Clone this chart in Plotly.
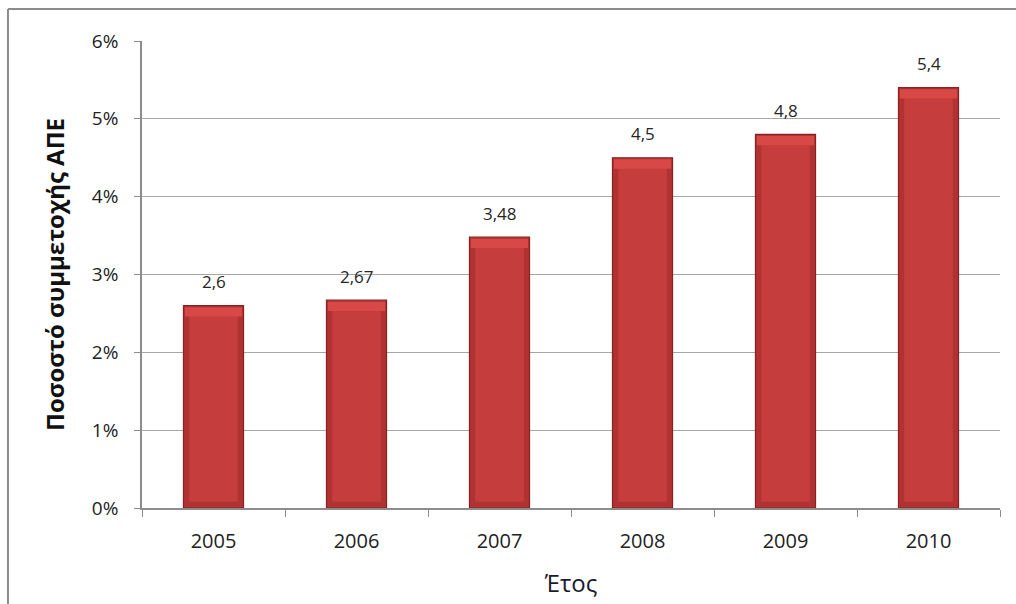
import plotly.graph_objects as go

# Share of renewable energy sources per year (%)
years = ["2005", "2006", "2007", "2008", "2009", "2010"]
share = [2.6, 2.67, 3.48, 4.5, 4.8, 5.4]
labels = ["2,6", "2,67", "3,48", "4,5", "4,8", "5,4"]
y_ticks = [0, 1, 2, 3, 4, 5, 6]

font_family = "Open Sans, Noto Sans, sans-serif"

fig = go.Figure()

# main bar body with darker bevel edge
fig.add_trace(go.Bar(
    x=years, y=share,
    width=0.42,
    marker=dict(color="#B03232", line=dict(color="#8A2222", width=1.2)),
    hoverinfo="skip",
))
# inner face
fig.add_trace(go.Bar(
    x=years, y=[v - 0.2 for v in share],
    base=[0.08] * len(share),
    width=0.34,
    marker=dict(color="#C63D3D", line=dict(width=0)),
    hoverinfo="skip",
))
# highlight along the top bevel
fig.add_trace(go.Bar(
    x=years, y=[0.12] * len(share),
    base=[v - 0.14 for v in share],
    width=0.40,
    marker=dict(color="#D84846", line=dict(width=0)),
    hoverinfo="skip",
))

# value labels above each bar (category axis: position by index)
annotations = [
    dict(x=i, y=v, xref="x", yref="y", text=lab, showarrow=False, yshift=24,
         font=dict(family=font_family, size=17, color="#262626"))
    for i, (v, lab) in enumerate(zip(share, labels))
]

fig.update_layout(
    width=1016, height=604,
    margin=dict(l=142, r=16, t=41, b=96),
    paper_bgcolor="white", plot_bgcolor="white",
    barmode="overlay",
    showlegend=False,
    font=dict(family=font_family, color="#222"),
    annotations=annotations,
    xaxis=dict(
        type="category",
        categoryorder="array", categoryarray=years,
        range=[-0.5, len(years) - 0.5],
        showline=True, linecolor="#8C8C8C", linewidth=1.5,
        ticks="outside", tickson="boundaries", ticklen=7, tickcolor="#8C8C8C",
        tickfont=dict(size=20, color="#222"),
        tickangle=0,
        ticklabelstandoff=14,
        title=dict(text="Έτος", font=dict(size=24, color="#1a1a2e"), standoff=22),
        showgrid=False,
    ),
    yaxis=dict(
        range=[0, 6],
        tickvals=y_ticks,
        ticktext=[f"{t}%" for t in y_ticks],
        showline=True, linecolor="#8C8C8C", linewidth=1.5,
        ticks="outside", ticklen=6, tickcolor="#8C8C8C",
        showgrid=True, gridcolor="#A6A6A6", gridwidth=1.2,
        tickfont=dict(size=19, color="#222"),
        ticklabelstandoff=12,
        title=dict(text="<b>Ποσοστό συμμετοχής ΑΠΕ</b>",
                   font=dict(size=24, color="#111"), standoff=20),
        zeroline=False,
    ),
    shapes=[
        # chart frame (left and top edges)
        dict(type="line", xref="paper", yref="paper",
             x0=-0.1562, x1=1.2, y0=1.0685, y1=1.0685,
             line=dict(color="#8C8C8C", width=2)),
        dict(type="line", xref="paper", yref="paper",
             x0=-0.1562, x1=-0.1562, y0=1.0685, y1=-0.3,
             line=dict(color="#8C8C8C", width=2)),
    ],
)

fig.write_html("out.html")
